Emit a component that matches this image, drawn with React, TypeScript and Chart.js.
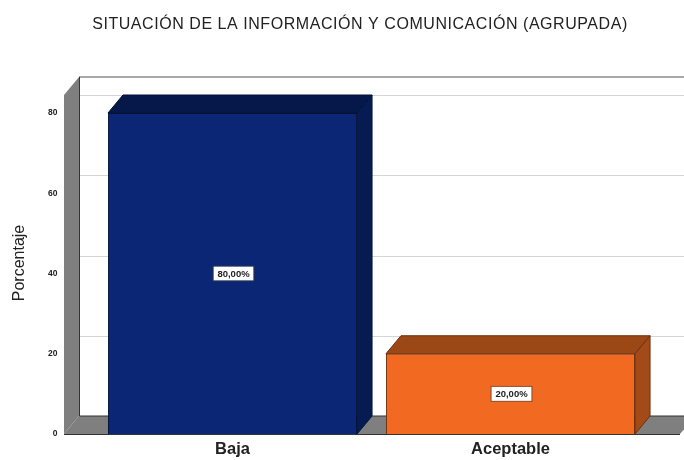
import React, { useEffect, useRef } from "react";
import { Chart, registerables } from "chart.js";

Chart.register(...registerables);

const chartTitle = "SITUACIÓN DE LA INFORMACIÓN Y COMUNICACIÓN (AGRUPADA)";
const yAxisTitle = "Porcentaje";
const categories = ["Baja", "Aceptable"];
const percentages = [80, 20];
const valueLabels = ["80,00%", "20,00%"];
const frontColors = ["#0a2674", "#f26a22"];
const topColors = ["#051849", "#9c4716"];
const sideColors = ["#061b52", "#a34a18"];
const edgeColors = ["#04123a", "#6e2f0c"];
const yTicks = [0, 20, 40, 60, 80];

const DEPTH_X = 15;
const DEPTH_Y = 18;
const PLOT_BOTTOM = 434;
const FONT = "'Liberation Sans', Arial, sans-serif";

function poly(ctx: CanvasRenderingContext2D, pts: number[][], fill: string, stroke?: string) {
  ctx.beginPath();
  pts.forEach(([x, y], i) => (i ? ctx.lineTo(x, y) : ctx.moveTo(x, y)));
  ctx.closePath();
  ctx.fillStyle = fill;
  ctx.fill();
  if (stroke) {
    ctx.strokeStyle = stroke;
    ctx.lineWidth = 1;
    ctx.stroke();
  }
}

// Box walls, floor, grid lines and the bars' depth faces sit behind the front faces.
const roomPlugin = {
  id: "room",
  // Pins the baseline so the category labels fit in the strip beneath the floor.
  afterLayout(chart: any) {
    const { chartArea, scales } = chart;
    chartArea.bottom = PLOT_BOTTOM;
    chartArea.h = PLOT_BOTTOM - chartArea.top;
    scales.y.bottom = PLOT_BOTTOM;
    scales.y.height = PLOT_BOTTOM - scales.y.top;
    scales.y.configure();
    scales.x.top = PLOT_BOTTOM;
    scales.x.bottom = chart.height;
    scales.x.height = chart.height - PLOT_BOTTOM;
  },
  beforeDatasetsDraw(chart: any) {
    const { ctx, scales } = chart;
    const y = scales.y;
    const x0 = 64;
    const x1 = 680;
    const base = y.getPixelForValue(0);
    const top = y.getPixelForValue(80) - 18;
    ctx.save();
    poly(
      ctx,
      [
        [x0, base],
        [x0, top],
        [x0 + DEPTH_X, top - DEPTH_Y],
        [x0 + DEPTH_X, base - DEPTH_Y],
      ],
      "#7f7f7f"
    );
    poly(
      ctx,
      [
        [x0, base],
        [x1, base],
        [x1 + DEPTH_X, base - DEPTH_Y],
        [x0 + DEPTH_X, base - DEPTH_Y],
      ],
      "#7f7f7f"
    );
    ctx.lineWidth = 1;
    ctx.strokeStyle = "#d4d4d4";
    yTicks.slice(1).forEach((v) => {
      const py = Math.round(y.getPixelForValue(v) - DEPTH_Y) + 0.5;
      ctx.beginPath();
      ctx.moveTo(x0 + DEPTH_X, py);
      ctx.lineTo(684, py);
      ctx.stroke();
    });
    ctx.strokeStyle = "#a8a8a8";
    ctx.lineWidth = 2;
    ctx.beginPath();
    ctx.moveTo(x0 + DEPTH_X, top - DEPTH_Y);
    ctx.lineTo(684, top - DEPTH_Y);
    ctx.stroke();
    ctx.strokeStyle = "#333333";
    ctx.lineWidth = 1;
    ctx.beginPath();
    ctx.moveTo(x0 + DEPTH_X + 0.5, top - DEPTH_Y);
    ctx.lineTo(x0 + DEPTH_X + 0.5, base - DEPTH_Y);
    ctx.lineTo(684, base - DEPTH_Y);
    ctx.moveTo(x0, base + 0.5);
    ctx.lineTo(x1, base + 0.5);
    ctx.stroke();
    chart.getDatasetMeta(0).data.forEach((bar: any, i: number) => {
      const l = bar.x - bar.width / 2;
      const r = bar.x + bar.width / 2;
      const t = bar.y;
      const b = bar.base;
      poly(
        ctx,
        [
          [l, t],
          [l + DEPTH_X, t - DEPTH_Y],
          [r + DEPTH_X, t - DEPTH_Y],
          [r, t],
        ],
        topColors[i],
        edgeColors[i]
      );
      poly(
        ctx,
        [
          [r, t],
          [r + DEPTH_X, t - DEPTH_Y],
          [r + DEPTH_X, b - DEPTH_Y],
          [r, b],
        ],
        sideColors[i],
        edgeColors[i]
      );
    });
    ctx.restore();
  },
  // Value boxes on the front faces, plus the title and axis caption placed off-centre.
  afterDatasetsDraw(chart: any) {
    const { ctx } = chart;
    ctx.save();
    ctx.textAlign = "center";
    ctx.textBaseline = "middle";
    ctx.font = `bold 9.5px ${FONT}`;
    chart.getDatasetMeta(0).data.forEach((bar: any, i: number) => {
      const cx = bar.x + 1;
      const cy = (bar.y + bar.base) / 2;
      ctx.fillStyle = "#ffffff";
      ctx.fillRect(cx - 20, cy - 7, 40, 14);
      ctx.strokeStyle = "rgba(60,60,60,0.55)";
      ctx.lineWidth = 1;
      ctx.strokeRect(cx - 20.5, cy - 7.5, 41, 15);
      ctx.fillStyle = "#222222";
      ctx.fillText(valueLabels[i], cx, cy + 0.5);
    });

    ctx.fillStyle = "#222222";
    ctx.font = `16px ${FONT}`;
    (ctx as any).letterSpacing = "0.55px";
    ctx.fillText(chartTitle, 360, 25);
    (ctx as any).letterSpacing = "0px";

    ctx.translate(20, 263);
    ctx.rotate(-Math.PI / 2);
    ctx.font = `16px ${FONT}`;
    ctx.fillText(yAxisTitle, 0, 0);
    ctx.restore();
  },
};

export default function App() {
  const ref = useRef<HTMLCanvasElement>(null);

  useEffect(() => {
    const chart = new Chart(ref.current!, {
      type: "bar",
      data: {
        labels: categories,
        datasets: [
          {
            data: percentages,
            backgroundColor: frontColors,
            borderColor: edgeColors,
            borderWidth: 1,
            barPercentage: 0.896,
            categoryPercentage: 1,
          },
        ],
      },
      options: {
        animation: false,
        responsive: false,
        layout: { padding: { top: 113, right: 34.5, bottom: 0, left: 0 } },
        plugins: {
          legend: { display: false },
          tooltip: { enabled: false },
          title: { display: false },
        },
        scales: {
          x: {
            grid: { display: false, drawTicks: false },
            border: { display: false },
            ticks: {
              color: "#222222",
              padding: 6,
              maxRotation: 0,
              font: { family: FONT, size: 16.5, weight: "bold" },
            },
          },
          y: {
            min: 0,
            max: 80,
            afterFit(scale: any) {
              scale.width = 93.5;
            },
            afterBuildTicks(scale: any) {
              scale.ticks = yTicks.map((value) => ({ value }));
            },
            grid: { display: false, drawTicks: false },
            border: { display: false },
            ticks: {
              color: "#222222",
              padding: 36,
              font: { family: FONT, size: 8.5, weight: "bold" },
            },
          },
        },
      },
      plugins: [roomPlugin],
    } as any);
    return () => chart.destroy();
  }, []);

  return (
    <div style={{ position: "fixed", left: 0, top: 0, width: 684, height: 460, background: "#fff" }}>
      <canvas ref={ref} width={684} height={460} style={{ display: "block" }} />
    </div>
  );
}
